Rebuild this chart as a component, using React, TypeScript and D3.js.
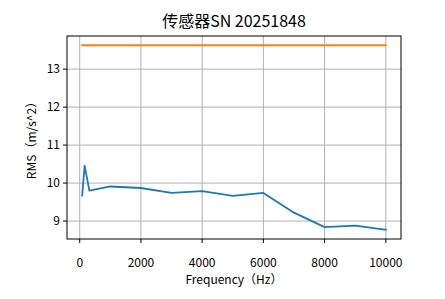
import React from "react";
import * as d3 from "d3";

const frequencies = [80, 160, 315, 1000, 2000, 3000, 4000, 5000, 6000, 7000, 8000, 9000, 10000];
const rmsValues = [9.67, 10.46, 9.8, 9.91, 9.87, 9.74, 9.79, 9.66, 9.74, 9.22, 8.84, 8.88, 8.77];
const limitValues = [13.63, 13.63, 13.63, 13.63, 13.63, 13.63, 13.63, 13.63, 13.63, 13.63, 13.63, 13.63, 13.63];
const xTicks = [0, 2000, 4000, 6000, 8000, 10000];
const yTicks = [9, 10, 11, 12, 13];
const title = "传感器SN 20251848";
const xLabel = "Frequency（Hz）";
const yLabel = "RMS（m/s^2）";

const W = 445;
const H = 299;
const M = { left: 67, right: 401, top: 36, bottom: 239 };
const FONT = "'Noto Sans CJK SC', 'DejaVu Sans', sans-serif";

function padded(ext: [number, number]): [number, number] {
  const m = (ext[1] - ext[0]) * 0.05;
  return [ext[0] - m, ext[1] + m];
}

export default function App() {
  const xExt = d3.extent(frequencies) as [number, number];
  const yExt = d3.extent([...rmsValues, ...limitValues]) as [number, number];
  const x = d3.scaleLinear().domain(padded(xExt)).range([M.left, M.right]);
  const y = d3.scaleLinear().domain(padded(yExt)).range([M.bottom, M.top]);

  const line = d3
    .line<number>()
    .x((_, i) => x(frequencies[i]))
    .y((d) => y(d));

  return (
    <svg
      width={W}
      height={H}
      style={{ position: "absolute", left: 0, top: 0, background: "#fff" }}
      fontFamily={FONT}
    >
      <rect x={0} y={0} width={W} height={H} fill="#fff" />
      {xTicks.map((t) => (
        <line key={"gx" + t} x1={x(t)} x2={x(t)} y1={M.top} y2={M.bottom} stroke="#b0b0b0" strokeWidth={1} />
      ))}
      {yTicks.map((t) => (
        <line key={"gy" + t} x1={M.left} x2={M.right} y1={y(t)} y2={y(t)} stroke="#b0b0b0" strokeWidth={1} />
      ))}
      <path d={line(rmsValues) || ""} fill="none" stroke="#1f77b4" strokeWidth={1.8} strokeLinejoin="round" strokeLinecap="square" />
      <path d={line(limitValues) || ""} fill="none" stroke="#ff7f0e" strokeWidth={1.8} strokeLinecap="square" />
      <rect x={M.left} y={M.top} width={M.right - M.left} height={M.bottom - M.top} fill="none" stroke="#000" strokeWidth={1} />
      {xTicks.map((t) => (
        <g key={"tx" + t}>
          <line x1={x(t)} x2={x(t)} y1={M.bottom} y2={M.bottom + 4} stroke="#000" strokeWidth={1} />
          <text x={x(t)} y={M.bottom + 28} textAnchor="middle" fontSize={12} fill="#000">
            {t}
          </text>
        </g>
      ))}
      {yTicks.map((t) => (
        <g key={"ty" + t}>
          <line x1={M.left - 4} x2={M.left} y1={y(t)} y2={y(t)} stroke="#000" strokeWidth={1} />
          <text x={M.left - 7} y={y(t)} dy="0.36em" textAnchor="end" fontSize={12} fill="#000">
            {t}
          </text>
        </g>
      ))}
      <text x={(M.left + M.right) / 2} y={284} textAnchor="middle" fontSize={12} fill="#000">
        {xLabel}
      </text>
      <text
        transform={`translate(36,${(M.top + M.bottom) / 2}) rotate(-90)`}
        textAnchor="middle"
        fontSize={12}
        fill="#000"
      >
        {yLabel}
      </text>
      <text x={(M.left + M.right) / 2} y={27} textAnchor="middle" fontSize={16} fill="#000">
        {title}
      </text>
    </svg>
  );
}
